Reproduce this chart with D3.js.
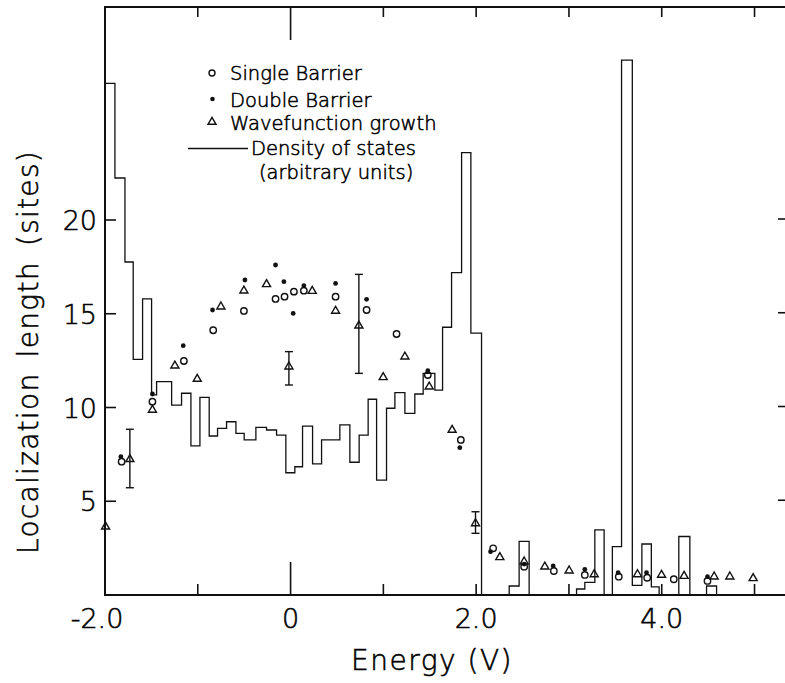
<!DOCTYPE html>
<meta charset="utf-8">
<style>
body { margin: 0; background: #fff; }
svg { display: block; }
text { font-family: "DejaVu Sans", sans-serif; font-weight: 200; fill: #000; stroke: #000; stroke-width: 0.55px; }
.axis-line { stroke: #111; stroke-width: 2; fill: none; }
.tick { stroke: #111; stroke-width: 1.6; }
.dos { stroke: #111; stroke-width: 1.3; fill: none; }
.mk { stroke: #111; stroke-width: 1.4; fill: none; }
</style>
<svg width="785" height="683"></svg>
<script src="https://cdn.jsdelivr.net/npm/d3@7"></script>
<script>
// density of states histogram (arbitrary units): bin edges in V, bin heights
var dosEdges = [-2.000, -1.893, -1.785, -1.696, -1.595, -1.498, -1.444, -1.282, -1.175, -1.074,
  -0.977, -0.877, -0.787, -0.690, -0.589, -0.500, -0.374, -0.259, -0.151, -0.051,
  0.046, 0.129, 0.237, 0.334, 0.531, 0.639, 0.739, 0.836, 0.927, 1.034,
  1.124, 1.232, 1.339, 1.429, 1.555, 1.638, 1.735, 1.843, 1.943, 2.058,
  2.356, 2.463, 2.571, 3.082, 3.171, 3.279, 3.379, 3.468, 3.567, 3.683,
  3.786, 3.888, 3.972, 4.184, 4.303, 4.483, 4.591, 5.35];
var dosHeights = [27.29, 22.24, 17.76, 12.57, 15.79, 10.67, 11.38, 10.13, 10.76, 7.95,
  10.54, 8.48, 8.89, 9.24, 8.62, 8.27, 8.94, 8.80, 8.53, 6.52,
  6.84, 9.01, 6.99, 8.27, 9.07, 7.08, 8.53, 10.44, 6.13, 9.96,
  10.79, 9.69, 10.72, 11.82, 10.93, 14.28, 17.19, 23.59, 13.97,
  0, 0.48, 2.86, 0, 0.32, 0.67, 3.47, 0, 2.58, 28.53,
  0.51, 2.72, 0.43, 0, 3.12, 0, 0.48, 0];

// single barrier (open circles)
var singleE = [-1.821, -1.489, -1.150, -0.834, -0.503, -0.162, -0.065, 0.036, 0.143, 0.485,
  0.819, 1.142, 1.479, 1.835, 2.183, 2.517, 2.837, 3.171, 3.537, 3.843, 4.130, 4.493];
var singleL = [7.11, 10.31, 12.48, 14.12, 15.15, 15.79, 15.91, 16.18, 16.23, 15.91,
  15.20, 13.92, 11.73, 8.27, 2.49, 1.51, 1.28, 1.07, 0.98, 0.92, 0.84, 0.75];

// double barrier (filled dots)
var doubleE = [-1.829, -1.489, -1.157, -0.841, -0.492, -0.162, -0.072, 0.028, 0.143, 0.485,
  0.819, 1.479, 1.824, 2.155, 2.517, 2.830, 3.171, 3.530, 3.836, 4.493];
var doubleL = [7.38, 10.72, 13.30, 15.20, 16.80, 17.60, 16.71, 15.02, 16.50, 16.62,
  15.77, 11.96, 7.86, 2.31, 1.65, 1.55, 1.37, 1.19, 1.19, 0.98];

// wavefunction growth (triangles)
var waveE = [-1.994, -1.732, -1.489, -1.247, -1.006, -0.751, -0.503, -0.259, -0.018, 0.233,
  0.485, 0.736, 0.998, 1.232, 1.494, 1.741, 1.993, 2.255, 2.517, 2.740,
  3.002, 3.272, 3.739, 3.998, 4.241, 4.565, 4.734, 4.985];
var waveL = [3.64, 7.24, 9.87, 12.23, 11.52, 15.38, 16.23, 16.57, 12.18, 16.21,
  15.15, 14.36, 11.61, 12.71, 11.11, 8.80, 3.82, 2.01, 1.78, 1.51,
  1.30, 1.10, 1.10, 1.07, 1.01, 0.98, 0.98, 0.89];

// error bars on some wavefunction points
var errE = [-1.732, -0.018, 0.736, 1.993];
var errLo = [5.72, 11.20, 11.82, 3.29];
var errHi = [8.84, 12.98, 17.10, 4.44];

var xTicks = [-1, 0, 1, 2, 3, 4, 5];
var xLabels = [-2, 0, 2, 4];
var yTicks = [5, 10, 15, 20];

var svg = d3.select("svg");

var x = d3.scaleLinear().domain([-2, 5.35]).range([105, 787]);
var y = d3.scaleLinear().domain([0, 31.36]).range([595, 7]);

var x0 = x.range()[0], x1 = x.range()[1], yb = y.range()[0], yt = y.range()[1];

// frame
svg.append("path").attr("class", "axis-line")
  .attr("d", "M" + x1 + "," + yt + "H" + x0 + "V" + yb + "H" + x1);

// x ticks, bottom and top, pointing in
svg.selectAll(".xtb").data(xTicks).enter().append("line")
  .attr("class", "tick")
  .attr("x1", function(d) { return x(d); }).attr("x2", function(d) { return x(d); })
  .attr("y1", yb).attr("y2", function(d) { return yb - (d === 0 ? 33 : 11); });
svg.selectAll(".xtt").data(xTicks).enter().append("line")
  .attr("class", "tick")
  .attr("x1", function(d) { return x(d); }).attr("x2", function(d) { return x(d); })
  .attr("y1", yt).attr("y2", function(d) { return yt + (d === 0 ? 33 : 10); });

// y ticks left and right
svg.selectAll(".ytl").data(yTicks).enter().append("line")
  .attr("class", "tick")
  .attr("x1", x0).attr("x2", x0 + 11)
  .attr("y1", function(d) { return y(d); }).attr("y2", function(d) { return y(d); });
svg.selectAll(".ytr").data(yTicks).enter().append("line")
  .attr("class", "tick")
  .attr("x1", 778).attr("x2", x1)
  .attr("y1", function(d) { return y(d) - 1; }).attr("y2", function(d) { return y(d) - 1; });

// tick labels
svg.selectAll(".xl").data(xLabels).enter().append("text")
  .attr("x", function(d) { return x(d) + (d < 0 ? -8 : 0); })
  .attr("y", 628)
  .attr("text-anchor", "middle")
  .style("font-size", "27px")
  .text(function(d) { return d === 0 ? "0" : (d < 0 ? "-" : "") + Math.abs(d).toFixed(1); });

svg.selectAll(".yl").data(yTicks).enter().append("text")
  .attr("x", 97)
  .attr("y", function(d) { return y(d) + 10; })
  .attr("text-anchor", "end")
  .style("font-size", "27px")
  .text(function(d) { return d; });

// axis titles
svg.append("text")
  .attr("x", 432).attr("y", 670)
  .attr("text-anchor", "middle")
  .style("font-size", "28px").style("letter-spacing", "1.5px")
  .text("Energy (V)");
svg.append("text")
  .attr("transform", "translate(38,352) rotate(-90)")
  .attr("text-anchor", "middle")
  .style("font-size", "28px").style("letter-spacing", "1.3px").style("word-spacing", "5px")
  .text("Localization length (sites)");

// density of states
var dosPts = [[dosEdges[0], 0]];
dosHeights.forEach(function(h, i) { dosPts.push([dosEdges[i], h]); });
dosPts.push([dosEdges[dosEdges.length - 1], 0]);

var step = d3.line()
  .x(function(d) { return x(d[0]); })
  .y(function(d) { return y(d[1]); })
  .curve(d3.curveStepAfter);

svg.append("path").attr("class", "dos").attr("d", step(dosPts));

// error bars
errE.forEach(function(e, i) {
  var g = svg.append("g").attr("class", "mk");
  g.append("line").attr("x1", x(e)).attr("x2", x(e)).attr("y1", y(errLo[i])).attr("y2", y(errHi[i]));
  g.append("line").attr("x1", x(e) - 4).attr("x2", x(e) + 4).attr("y1", y(errLo[i])).attr("y2", y(errLo[i]));
  g.append("line").attr("x1", x(e) - 4).attr("x2", x(e) + 4).attr("y1", y(errHi[i])).attr("y2", y(errHi[i]));
});

var tri = d3.symbol().type(d3.symbolTriangle).size(28);

svg.selectAll(".single").data(singleE).enter().append("circle")
  .attr("class", "mk")
  .attr("cx", function(d) { return x(d); })
  .attr("cy", function(d, i) { return y(singleL[i]); })
  .attr("r", 3.2);

svg.selectAll(".double").data(doubleE).enter().append("circle")
  .attr("cx", function(d) { return x(d); })
  .attr("cy", function(d, i) { return y(doubleL[i]); })
  .attr("r", 2.4)
  .style("fill", "#111");

svg.selectAll(".wave").data(waveE).enter().append("path")
  .attr("class", "mk")
  .attr("d", tri)
  .attr("transform", function(d, i) { return "translate(" + x(d) + "," + y(waveL[i]) + ")"; });

// legend
svg.append("circle").attr("class", "mk").attr("cx", 212).attr("cy", 73).attr("r", 3);
svg.append("circle").attr("cx", 212.5).attr("cy", 99).attr("r", 2.3).style("fill", "#111");
svg.append("path").attr("class", "mk").attr("d", tri).attr("transform", "translate(212,122)");
svg.append("line").attr("class", "dos").attr("x1", 188).attr("x2", 248).attr("y1", 148.5).attr("y2", 148.5);
svg.append("text").attr("x", 230).attr("y", 80).text("Single Barrier").style("font-size", "19.5px");
svg.append("text").attr("x", 230).attr("y", 106.5).text("Double Barrier").style("font-size", "19.5px");
svg.append("text").attr("x", 230).attr("y", 130).text("Wavefunction growth").style("font-size", "19.5px");
svg.append("text").attr("x", 251).attr("y", 155).text("Density of states").style("font-size", "19.5px");
svg.append("text").attr("x", 259).attr("y", 179).text("(arbitrary units)").style("font-size", "19.5px");
</script>
